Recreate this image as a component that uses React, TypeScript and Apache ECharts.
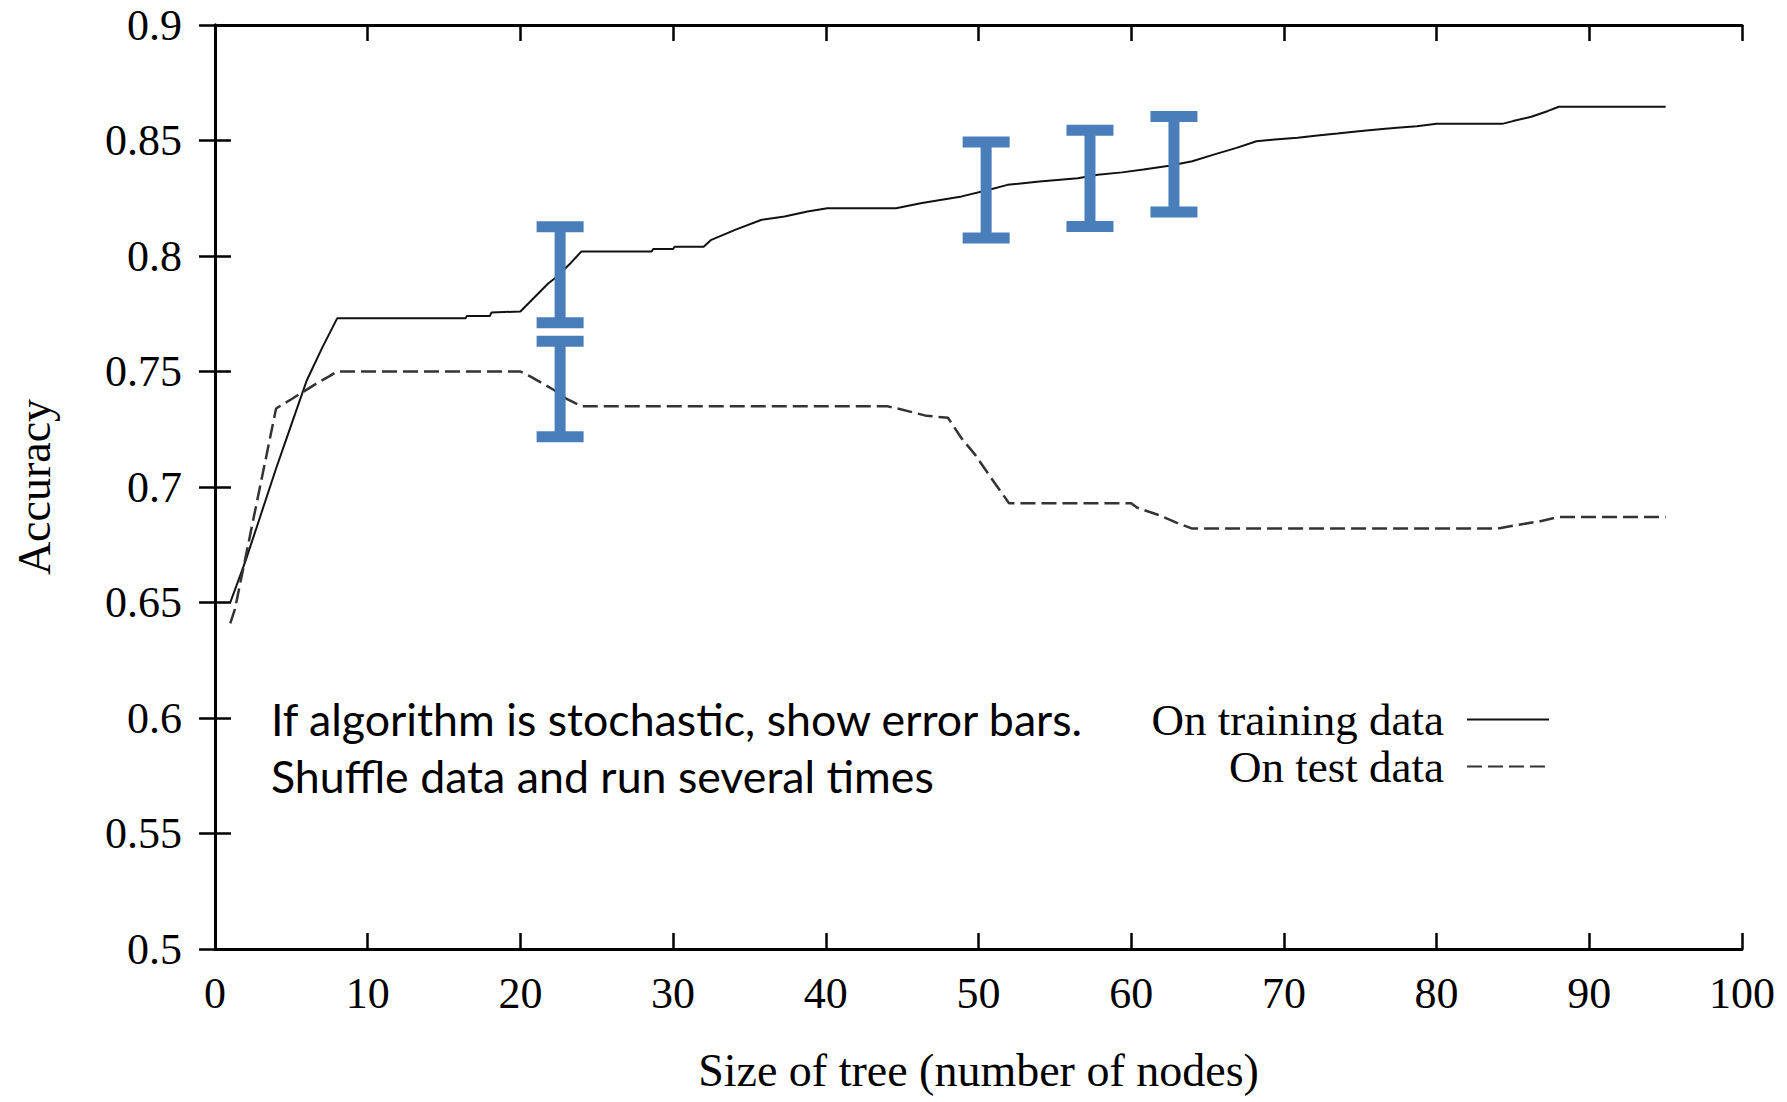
import React, { useEffect, useRef } from "react";
import * as echarts from "echarts";

const trainX = [1, 2, 3, 4, 5, 6, 7, 8, 16.4, 16.5, 18, 18.1, 20, 21.8, 22.3, 23.3, 24, 28.6, 28.7, 30, 30.1, 32, 32.5, 34.1, 35.8, 37.3, 38.8, 40.1, 44.6, 46.3, 48.9, 50.7, 51.9, 54, 56.5, 57.8, 59.4, 60.8, 62.5, 64, 65.4, 66.9, 68.2, 69.4, 70.9, 72.2, 73.5, 74.9, 76.1, 77.4, 78.7, 80, 84.3, 85, 86.2, 87.3, 88, 95];
const trainY = [0.65, 0.668, 0.688, 0.708, 0.727, 0.746, 0.76, 0.773, 0.773, 0.774, 0.774, 0.7755, 0.776, 0.788, 0.7906, 0.797, 0.802, 0.802, 0.803, 0.803, 0.804, 0.804, 0.807, 0.8114, 0.8157, 0.8171, 0.8193, 0.8207, 0.8207, 0.8229, 0.8258, 0.8287, 0.8308, 0.8323, 0.8337, 0.8352, 0.8362, 0.8374, 0.8391, 0.841, 0.8439, 0.8468, 0.8497, 0.8504, 0.8512, 0.8522, 0.853, 0.854, 0.8548, 0.8555, 0.8562, 0.8572, 0.8572, 0.8584, 0.8603, 0.8628, 0.8646, 0.8646];

const testX = [1, 1.3, 4, 5, 6.7, 7.5, 8, 20, 20.7, 22.2, 23, 24, 44, 44.7, 46.6, 48, 48.9, 49.8, 50.7, 52, 60, 60.4, 61.7, 63, 64, 84, 85.5, 86.8, 88, 95];
const testY = [0.641, 0.647, 0.734, 0.738, 0.745, 0.748, 0.75, 0.75, 0.7477, 0.742, 0.7383, 0.735, 0.735, 0.734, 0.7308, 0.73, 0.721, 0.7138, 0.7051, 0.693, 0.693, 0.691, 0.6881, 0.6845, 0.682, 0.682, 0.6838, 0.6852, 0.687, 0.687];

const errX = [22.6, 22.6, 50.5, 57.3, 62.8];
const errHigh = [0.8127, 0.7631, 0.8493, 0.8544, 0.8604];
const errLow = [0.7711, 0.7217, 0.8078, 0.8128, 0.8191];

const xTicks = { min: 0, max: 100, interval: 10 };
const yTicks = { min: 0.5, max: 0.9, interval: 0.05 };

const seriesNames = ["On training data", "On test data"];
const noteLines = ["If algorithm is stochastic, show error bars.", "Shuffle data and run several times"];
const xName = "Size of tree (number of nodes)";
const yName = "Accuracy";

const SERIF = "'Liberation Serif', 'Times New Roman', serif";
const BLUE = "#4a7ebb";

export default function App() {
  const ref = useRef<HTMLDivElement>(null);
  useEffect(() => {
    if (!ref.current) return;
    const chart = echarts.init(ref.current, null, { renderer: "svg" });
    const axisLine = { show: true, lineStyle: { color: "#000", width: 3 } };
    const tick = (len: number) => ({ show: true, inside: true, length: len, lineStyle: { color: "#000", width: 2.5 } });
    const legendBase = {
      orient: "vertical",
      align: "right",
      right: 237,
      padding: 0,
      itemWidth: 82,
      itemHeight: 14,
      itemStyle: { opacity: 0 },
      textStyle: { fontFamily: SERIF, fontSize: 45, color: "#000", padding: [0, 18, 0, 0] },
    };
    chart.setOption({
      animation: false,
      backgroundColor: "#fff",
      grid: { left: 215, right: 45, top: 25, bottom: 153, show: false },
      legend: [
        { ...legendBase, data: [seriesNames[0]], top: 697 },
        { ...legendBase, data: [seriesNames[1]], top: 744 },
      ],
      xAxis: [
        {
          type: "value", ...xTicks, position: "bottom",
          axisLine, axisTick: tick(16), splitLine: { show: false },
          axisLabel: { fontFamily: SERIF, fontSize: 44, color: "#000", margin: 22 },
          name: xName, nameLocation: "middle", nameGap: 98,
          nameTextStyle: { fontFamily: SERIF, fontSize: 46, color: "#000" },
        },
        {
          type: "value", ...xTicks, position: "top",
          axisLine, axisTick: tick(16), splitLine: { show: false }, axisLabel: { show: false },
        },
      ],
      yAxis: [
        {
          type: "value", ...yTicks, position: "left",
          axisLine, axisTick: tick(16), splitLine: { show: false },
          axisLabel: { fontFamily: SERIF, fontSize: 44, color: "#000", margin: 33 },
          name: yName, nameLocation: "middle", nameGap: 158,
          nameTextStyle: { fontFamily: SERIF, fontSize: 46, color: "#000" },
        },
        {
          type: "value", ...yTicks, position: "right",
          axisLine, axisTick: tick(16), splitLine: { show: false }, axisLabel: { show: false },
        },
      ],
      graphic: [
        {
          type: "text", left: 271, top: 690,
          style: { text: noteLines.join("\n"), font: "44.7px Lato", fill: "#000", lineHeight: 57 },
        },
      ],
      series: [
        {
          name: seriesNames[0], type: "line", symbol: "none",
          data: trainX.map((x, i) => [x, trainY[i]]),
          lineStyle: { color: "#111", width: 2 }, itemStyle: { color: "#111" },
          z: 3,
        },
        {
          name: seriesNames[1], type: "line", symbol: "none",
          data: testX.map((x, i) => [x, testY[i]]),
          lineStyle: { color: "#333", width: 2.5, type: [15, 6] }, itemStyle: { color: "#333" },
          z: 3,
        },
        {
          name: "error", type: "custom", z: 5,
          data: errX.map((x, i) => [x, errHigh[i], errLow[i]]),
          renderItem: (params: any, api: any) => {
            const hi = api.coord([api.value(0), api.value(1)]);
            const lo = api.coord([api.value(0), api.value(2)]);
            const capW = 47, capH = 11, stemW = 11;
            const style = { fill: BLUE };
            return {
              type: "group",
              children: [
                { type: "rect", shape: { x: hi[0] - stemW / 2, y: hi[1], width: stemW, height: lo[1] - hi[1] }, style },
                { type: "rect", shape: { x: hi[0] - capW / 2, y: hi[1] - capH / 2, width: capW, height: capH }, style },
                { type: "rect", shape: { x: lo[0] - capW / 2, y: lo[1] - capH / 2, width: capW, height: capH }, style },
              ],
            };
          },
        },
      ],
    });
    return () => chart.dispose();
  }, []);
  return <div ref={ref} style={{ position: "fixed", left: 0, top: 0, width: 1787, height: 1102, background: "#fff" }} />;
}
